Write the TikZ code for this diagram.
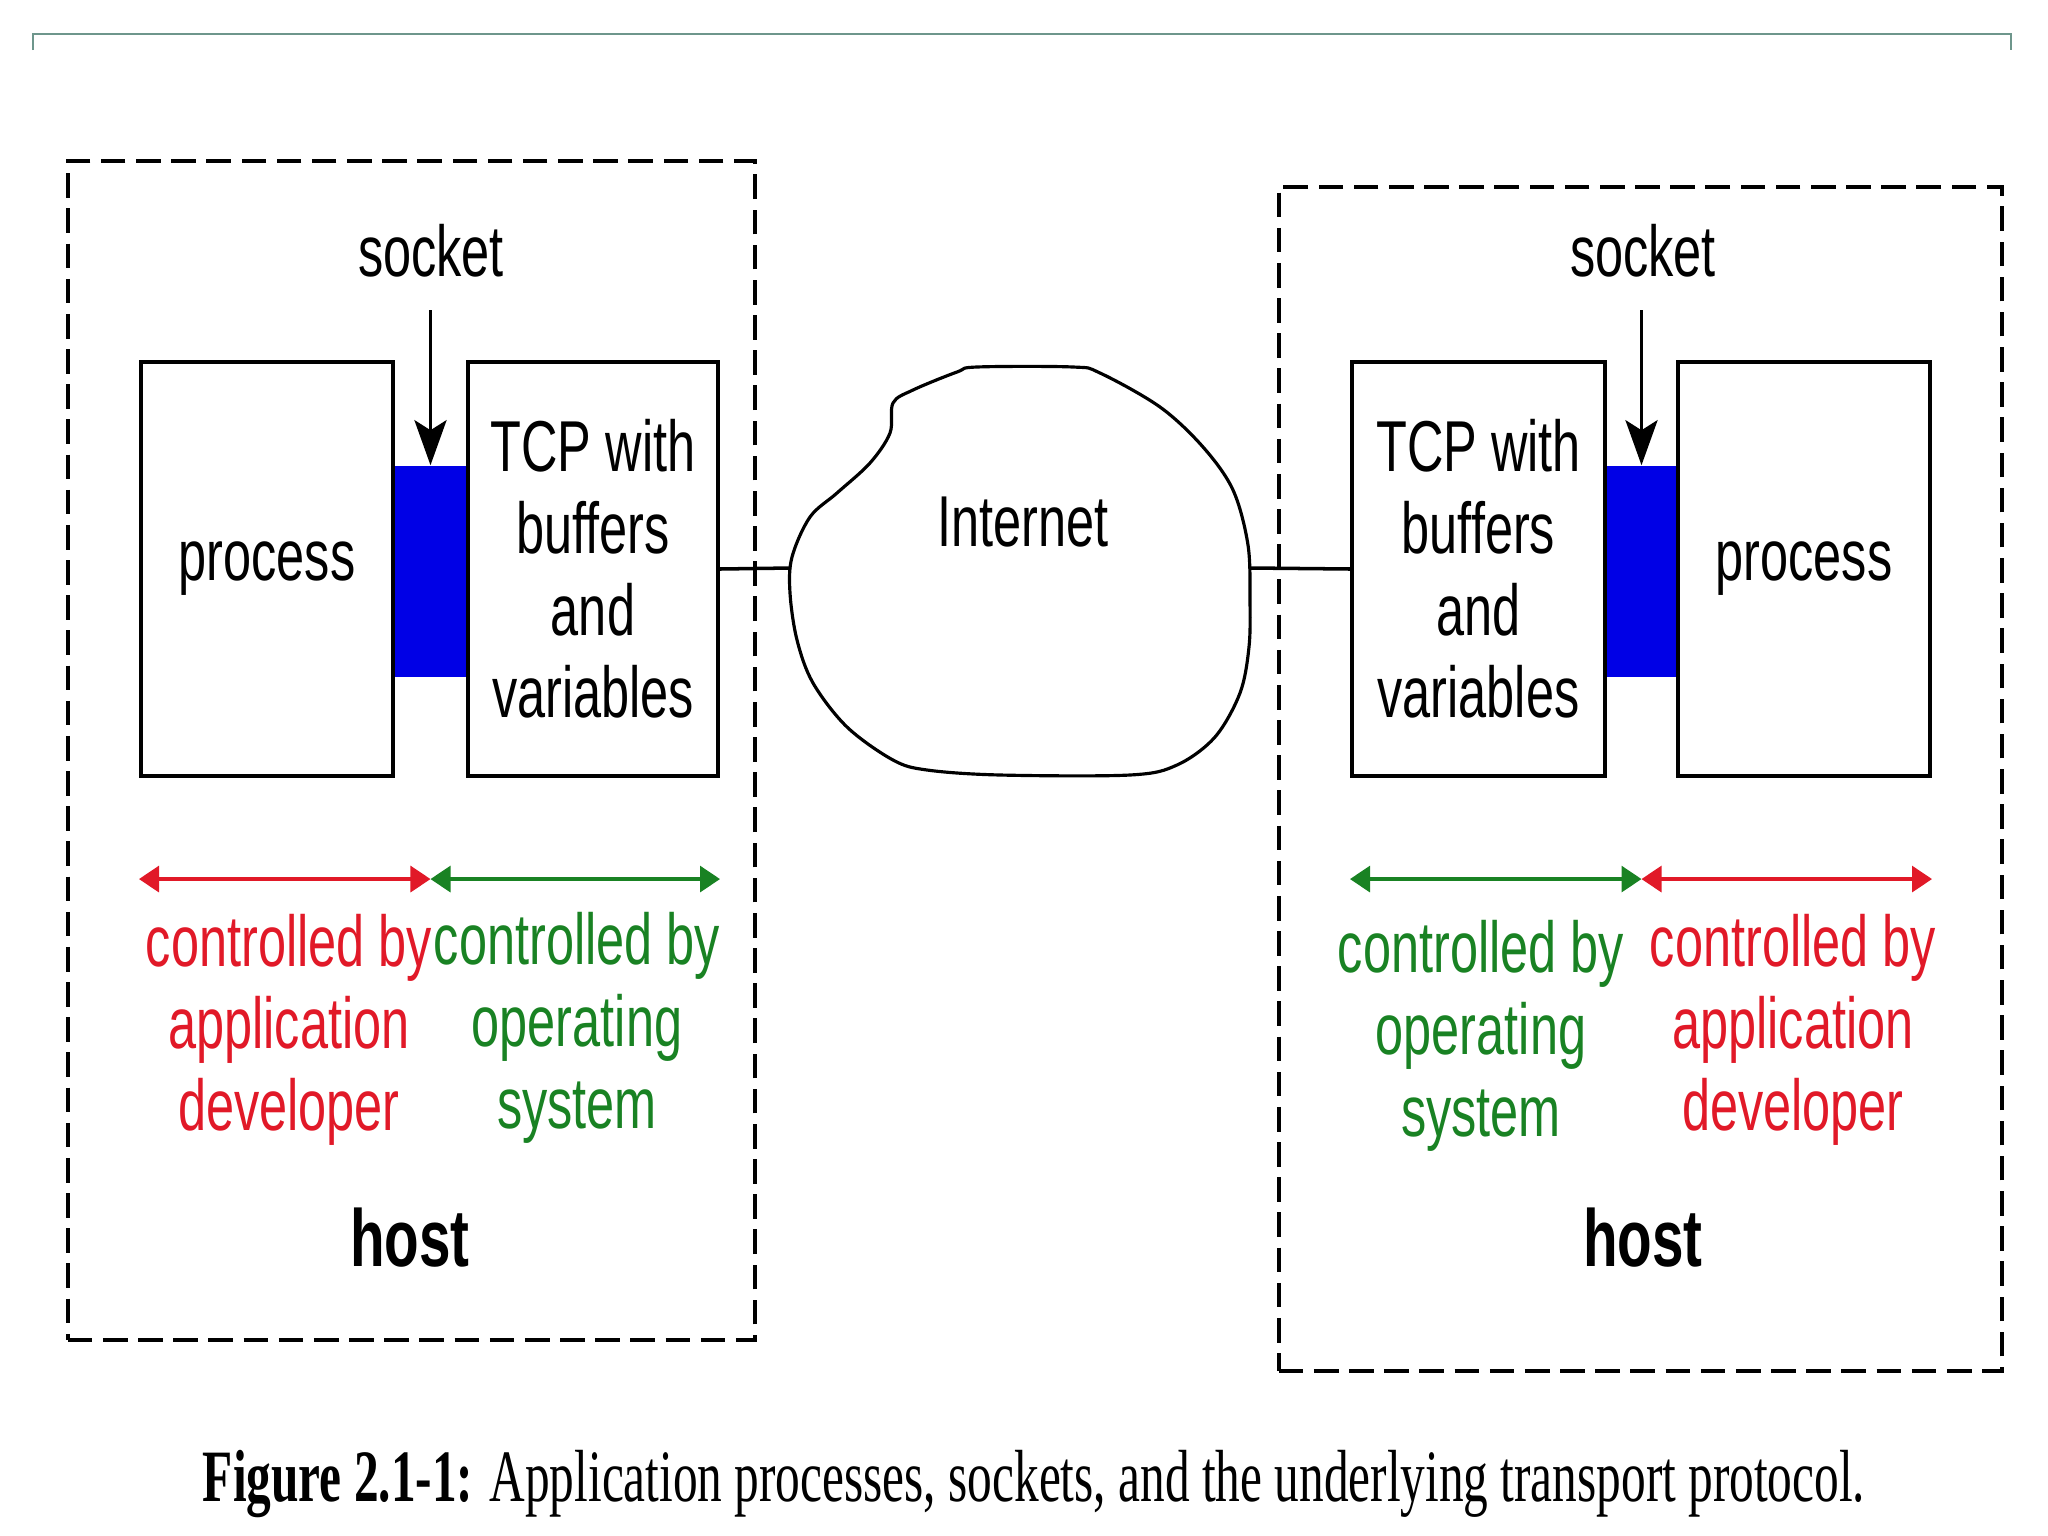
\documentclass[tikz,border=0pt]{standalone}
\usepackage{fontspec}
\setmainfont{Liberation Sans}
\newfontfamily\diagfont[FakeStretch=0.7]{Liberation Sans}
\newfontfamily\capfont[FakeStretch=0.668]{Liberation Serif}
\usepackage{tikz}
\usetikzlibrary{arrows.meta, calc}

\definecolor{appred}{RGB}{225,25,40}
\definecolor{osgreen}{RGB}{25,130,35}
\definecolor{sockblue}{RGB}{0,0,230}
\definecolor{rulegray}{RGB}{110,150,140}

\begin{document}
\begin{tikzpicture}[
        x=0.01cm, y=-0.01cm,
        font=\diagfont\fontsize{20.5}{23.3}\selectfont,
        host/.style={rectangle, draw, line width=1.1pt, dash pattern=on 7pt off 3pt, inner sep=0pt},
        procbox/.style={rectangle, draw, line width=1.1pt, align=center, inner sep=0pt,
                minimum width=2.52cm, minimum height=4.14cm},
        sockbox/.style={rectangle, fill=sockblue, inner sep=0pt,
                minimum width=0.75cm, minimum height=2.11cm},
        ctl/.style={align=center, inner sep=0pt},
        hostlabel/.style={font=\diagfont\bfseries\fontsize{23}{26}\selectfont},
        apparrow/.style={{Triangle[length=0.2cm, width=0.26cm]}-{Triangle[length=0.2cm, width=0.26cm]},
                appred, line width=0.9pt},
        osarrow/.style={{Triangle[length=0.2cm, width=0.26cm]}-{Triangle[length=0.2cm, width=0.26cm]},
                osgreen, line width=0.9pt},
        sockarrow/.style={-{Stealth[length=0.45cm, width=0.32cm, inset=0.1cm]}, line width=1.1pt},
        link/.style={line width=1pt},
    ]
    \useasboundingbox (0,0) rectangle (2048,1536);

    % --- slide rule ---------------------------------------------------
    \draw[rulegray, line width=0.7pt] (33,50) -- (33,34) -- (2011,34) -- (2011,50);

    % --- hosts --------------------------------------------------------
    \node[host, minimum width=6.87cm, minimum height=11.79cm] (hostL) at (411.5,750.5) {};
    \node[host, minimum width=7.23cm, minimum height=11.84cm] (hostR) at (1640.5,779) {};
    \node[hostlabel] (hostLlbl) at (410,1238) {host};
    \node[hostlabel] (hostRlbl) at (1643,1238) {host};

    % --- sockets ------------------------------------------------------
    \node[sockbox] (sockL) at (430.5,571.5) {};
    \node[sockbox, minimum width=0.73cm] (sockR) at (1641.5,571.5) {};

    % --- boxes --------------------------------------------------------
    \node[procbox] (procL) at (267,569) {process};
    \node[procbox, minimum width=2.50cm] (tcpL) at (593,569) {TCP with\\buffers\\and\\variables};
    \node[procbox, minimum width=2.53cm] (tcpR) at (1478.5,569) {TCP with\\buffers\\and\\variables};
    \node[procbox] (procR) at (1804,569) {process};

    \node (sktL) at (431,251) {socket};
    \node (sktR) at (1643,251) {socket};
    \coordinate (sktLtail) at (430.5,310);
    \coordinate (sktRtail) at (1641.5,310);
    \draw[sockarrow] (sktLtail) -- (sockL.north);
    \draw[sockarrow] (sktRtail) -- (sockR.north);

    % --- internet -----------------------------------------------------
    \draw[line width=0.9pt] plot[smooth cycle, tension=0.55] coordinates {
        (977,367) (1073,367) (1100,373) (1160,407) (1203,447) (1233,490)
        (1248,545) (1250,600) (1249,647) (1240,693) (1215,737) (1177,765)
        (1130,775) (1000,775) (927,770) (893,760) (847,727) (813,683)
        (797,640) (790,593) (792,557) (810,517) (837,493) (870,463)
        (890,433) (893,403) (913,390) (957,372)};
    \node (inet) at (1023,522) {Internet};
    \coordinate (cloudW) at (791,568);
    \coordinate (cloudE) at (1250,568);
    \draw[link] (tcpL.east) -- (cloudW);
    \draw[link] (cloudE) -- (tcpR.west);

    % --- who controls what --------------------------------------------
    \draw[apparrow] ($(procL.south west)+(0,101)$) -- ($(sockL.south |- procL.south)+(0,101)$);
    \draw[osarrow]  ($(sockL.south |- procL.south)+(0,101)$) -- ($(tcpL.south east)+(0,101)$);
    \draw[osarrow]  ($(tcpR.south west)+(0,101)$) -- ($(sockR.south |- tcpR.south)+(0,101)$);
    \draw[apparrow] ($(sockR.south |- tcpR.south)+(0,101)$) -- ($(procR.south east)+(0,101)$);

    \node[ctl, text=appred]  (appL) at (289,1030) {controlled by\\application\\developer};
    \node[ctl, text=osgreen] (osL)  at (577,1028) {controlled by\\operating\\system};
    \node[ctl, text=osgreen] (osR)  at (1481,1036) {controlled by\\operating\\system};
    \node[ctl, text=appred]  (appR) at (1793,1030) {controlled by\\application\\developer};

    % --- caption ------------------------------------------------------
    \node[font=\capfont\fontsize{21}{24}\selectfont] (caption) at (1034,1484)
        {\textbf{Figure 2.1-1:} Application processes, sockets, and the underlying transport protocol.};
\end{tikzpicture}
\end{document}
